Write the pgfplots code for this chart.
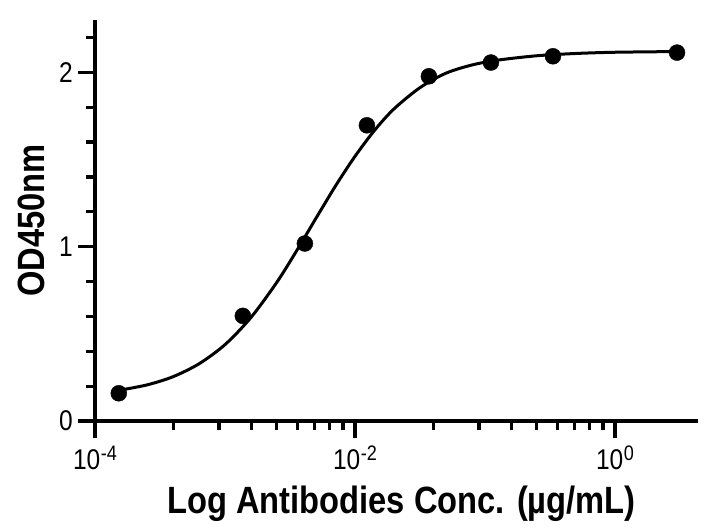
\documentclass[border=0pt]{standalone}
\usepackage{fontspec}
\setmainfont{Liberation Sans}[FakeStretch=0.86]
\usepackage{pgfplots}
\usepackage{pgfplotstable}
\pgfplotsset{compat=1.18}

% measured points (3-fold dilution series)
\pgfplotstableread{
x y
0.0001524 0.159
0.001372 0.603
0.004115 1.018
0.01235 1.696
0.03704 1.977
0.1111 2.056
0.3333 2.092
3.0 2.113
}\pts

% fitted curve
\pgfplotstableread{
x y
0.0001524 0.176
0.0002512 0.207
0.0003981 0.254
0.000631 0.328
0.001 0.438
0.001585 0.594
0.002512 0.797
0.003548 0.975
0.005012 1.163
0.007079 1.348
0.01 1.518
0.01413 1.667
0.01995 1.790
0.03162 1.912
0.05012 1.995
0.07943 2.042
0.1259 2.070
0.2512 2.095
0.5012 2.108
1.0 2.115
3.0 2.119
}\fit

\newcommand{\tf}{\fontsize{28.5bp}{30bp}\selectfont}
\newcommand{\tl}[1]{{\tf 10\kern0.5bp\raisebox{9bp}{\fontsize{21bp}{21bp}\selectfont #1}}}
\newcommand{\yl}[1]{{\tf #1}}

\begin{document}
\begin{tikzpicture}
\useasboundingbox (-95bp,-111bp) rectangle (625bp,421bp);
\begin{axis}[
  at={(0,0)}, anchor=south west,
  scale only axis, width=603bp, height=401bp,
  xmode=log, xmin=1e-4, xmax=4.35, ymin=0, ymax=2.3,
  axis lines=left,
  axis line style={-, line width=3.2bp, black},
  tick style={line width=3.2bp, black},
  major tick style={line width=3.2bp, black},
  minor tick style={line width=3.2bp, black},
  tick align=outside,
  major tick length=17bp, minor tick length=9bp,
  xtick={1e-4,1e-2,1},
  xticklabels={\tl{-4},\tl{-2},\tl{0}},
  minor xtick={4e-4,9e-4,1.6e-3,2.5e-3,3.6e-3,4.9e-3,6.4e-3,8.1e-3,0.04,0.09,0.16,0.25,0.36,0.49,0.64,0.81},
  ytick={0,1,2}, yticklabels={\yl{0},\yl{1},\yl{2}},
  minor ytick={0.2,0.4,0.6,0.8,1.2,1.4,1.6,1.8,2.2},
  yticklabel style={black, inner sep=0pt, xshift=-5bp},
  xticklabel style={black, inner sep=0pt, yshift=-8bp},
  xlabel={\bfseries Log Antibodies Conc. (µg/mL)},
  ylabel={\bfseries OD450nm},
  label style={font=\fontsize{38bp}{44bp}\selectfont},
  xlabel style={at={(axis description cs:0.5,0)}, anchor=center, yshift=-83bp, xshift=5bp},
  ylabel style={at={(axis description cs:0,0.5)}, anchor=center, yshift=64bp},
  clip=false,
]
\addplot[black, line width=3bp, smooth, no markers] table[x=x,y=y] {\fit};
\addplot[only marks, mark=*, mark size=8bp, draw=black, fill=black] table[x=x,y=y] {\pts};
\end{axis}
\end{tikzpicture}
\end{document}
